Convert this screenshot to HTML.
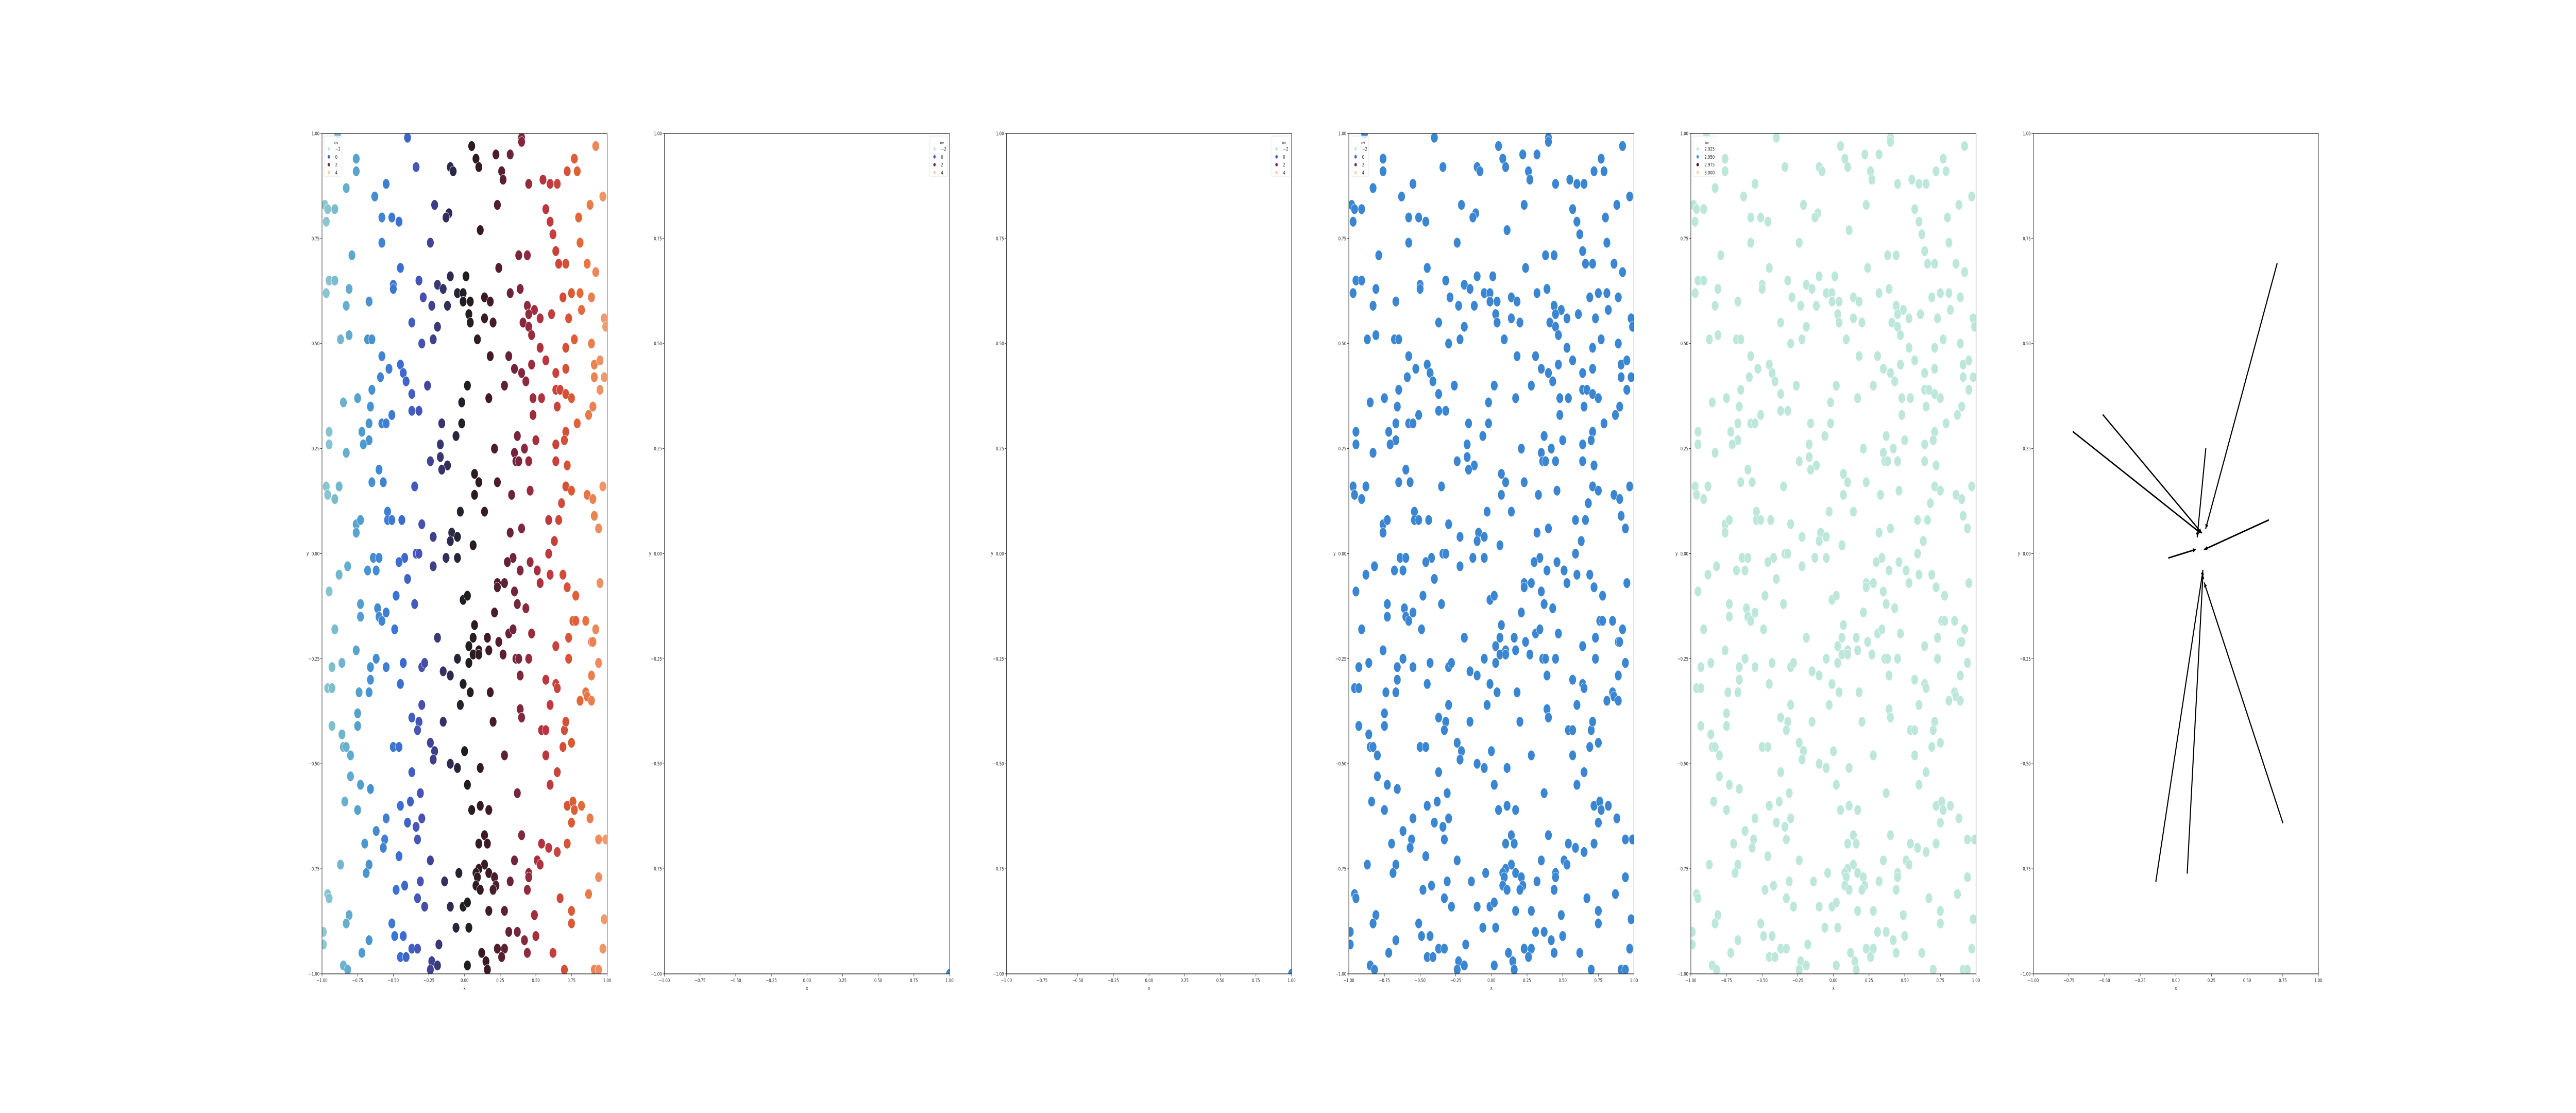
<!DOCTYPE html>
<html><head><meta charset="utf-8">
<style>
html,body{margin:0;padding:0;background:#fff;width:100%;height:100%;overflow:hidden;}
svg{display:block;position:absolute;left:0;top:0;width:100vw;height:100vh;font-family:"DejaVu Sans","Liberation Sans",sans-serif;}
</style></head>
<body>
<svg id="fig" viewBox="0 0 7200 2160" preserveAspectRatio="none" xmlns="http://www.w3.org/2000/svg"></svg>
<script>
// ---- data (data units) ----
const xs = [-0.40,0.40,0.40,0.05,0.92,-0.76,0.08,0.22,0.32,0.77,-0.34,-0.10,-0.08,0.10,0.26,0.27,0.72,0.79,-0.76,-0.55,0.55,0.60,0.65,0.45,-0.83,
-0.63,0.97,-0.98,-0.96,-0.91,-0.21,0.23,0.88,-0.11,-0.13,-0.58,-0.51,-0.46,-0.97,0.57,0.60,0.80,0.11,0.62,
-0.58,-0.24,0.81,-0.79,0.64,0.38,0.44,0.86,-0.45,0.24,0.66,0.71,0.92,-0.95,-0.91,-0.81,-0.97,-0.50,-0.50,-0.32,-0.10,0.01,-0.19,-0.15,-0.05,-0.01,0.39,0.32,
-0.67,-0.29,-0.23,-0.12,-0.01,0.04,0.14,0.18,0.69,0.75,0.81,0.89,-0.83,0.03,0.44,0.49,0.45,0.53,0.61,0.73,0.82,0.98,-0.37,0.04,0.14,0.20,0.41,0.45,0.47,0.99,-0.19,-0.87,-0.81,-0.68,-0.65,-0.30,-0.22,0.09,0.77,0.89,
-0.58,0.18,0.31,0.53,0.71,-0.53,-0.45,-0.43,0.35,0.40,0.47,0.57,0.64,0.71,0.91,0.95,-0.59,-0.41,0.28,0.43,0.91,0.98,-0.26,0.02,-0.65,-0.37,0.64,0.67,0.95,-0.85,-0.75,-0.02,0.17,0.48,0.54,0.71,0.75,
-0.66,-0.37,-0.32,-0.51,0.48,0.65,0.90,-0.67,-0.58,-0.55,-0.16,-0.02,0.79,0.87,-0.95,-0.72,-0.06,0.37,0.50,0.71,0.70,-0.95,-0.67,-0.71,-0.17,0.21,0.42,0.35,0.64,-0.83,
-0.24,-0.17,-0.12,0.36,0.38,0.45,0.64,0.72,-0.60,-0.16,0.07,0.10,-0.97,-0.88,-0.65,-0.57,-0.35,0.23,0.71,0.75,0.97,-0.96,-0.91,0.07,0.33,0.46,0.86,0.90,0.68,0.14,
-0.54,-0.03,-0.76,-0.73,-0.54,-0.51,-0.44,-0.30,0.59,0.66,0.91,-0.76,-0.09,-0.05,-0.10,-0.22,0.32,0.40,0.63,0.94,0.06,-0.64,-0.60,-0.42,-0.34,-0.32,-0.13,-0.05,-0.46,0.34,0.59,0.30,
-0.82,-0.88,-0.68,-0.62,-0.22,-0.40,0.39,0.46,0.51,0.53,0.60,0.69,0.72,0.95,-0.95,-0.48,0.23,0.23,0.28,0.35,-0.01,0.02,0.78,-0.73,-0.61,-0.55,-0.35,0.37,0.43,-0.73,-0.60,-0.58,
0.21,0.76,0.78,0.85,-0.49,-0.91,0.07,0.92,0.31,0.34,0.47,-0.19,0.06,0.16,0.24,0.73,0.89,0.90,-0.76,0.03,0.10,0.17,0.27,0.64,-0.93,-0.86,-0.66,-0.62,-0.55,-0.43,-0.30,-0.28,-0.05,0.06,0.10,0.03,0.36,0.38,0.45,0.73,0.94,
-0.66,-0.15,-0.10,0.39,0.89,-0.96,-0.93,-0.74,-0.67,-0.45,-0.01,0.04,0.18,0.57,0.64,0.65,0.85,0.81,0.86,0.89,-0.30,-0.03,0.60,-0.75,0.39,0.40,-0.37,-0.32,-0.15,0.20,-0.93,-0.75,
-0.86,-0.33,0.54,0.57,0.70,0.71,-0.85,-0.83,-0.50,-0.46,-0.24,-0.21,-0.22,0.00,0.69,0.75,-0.80,0.28,0.57,-0.10,-0.05,0.11,-0.37,0.65,
-0.80,-0.73,-0.66,0.02,0.60,0.37,-0.31,-0.84,-0.38,-0.45,0.05,0.11,0.17,0.72,0.76,0.77,0.82,-0.75,-0.55,-0.30,0.88,-0.40,-0.34,0.75,-0.62,
-0.56,-0.33,0.14,0.40,0.54,0.72,0.94,0.99,-0.70,-0.57,0.10,0.16,0.59,0.65,-0.46,-0.24,0.35,0.51,0.53,-0.87,-0.67,-0.69,0.14,0.10,0.17,0.08,-0.04,0.45,0.45,0.94,0.09,0.21,-0.14,
-0.31,0.32,0.08,0.22,-0.42,-0.48,0.11,0.20,0.44,0.87,-0.96,-0.95,-0.33,0.67,-0.28,-0.10,-0.01,0.02,0.28,0.17,0.75,0.49,-0.81,-0.83,0.75,-0.51,0.98,-0.06,0.03,-0.99,-0.49,-0.43,0.31,0.37,0.42,0.50,-0.99,-0.67,-0.18,-0.37,-0.33,-0.72,0.62,0.12,0.23,0.28,0.44,0.97,-0.45,-0.41,-0.23,-0.19,0.15,0.26,-0.85,-0.82,-0.24,0.02,0.16,0.70,0.91,0.94,-0.89];
const ys = [0.99,0.99,0.98,0.97,0.97,0.94,0.94,0.95,0.95,0.94,0.92,0.92,0.91,0.92,0.91,0.89,0.91,0.91,0.91,0.88,0.89,0.88,0.88,0.88,0.87,
0.85,0.85,0.83,0.82,0.82,0.83,0.83,0.83,0.81,0.80,0.80,0.80,0.79,0.79,0.82,0.79,0.80,0.77,0.76,
0.74,0.74,0.74,0.71,0.72,0.71,0.71,0.69,0.68,0.68,0.69,0.69,0.67,0.65,0.65,0.63,0.62,0.64,0.63,0.65,0.66,0.66,0.64,0.63,0.62,0.62,0.63,0.62,
0.60,0.61,0.59,0.59,0.60,0.60,0.61,0.60,0.61,0.62,0.62,0.61,0.59,0.57,0.59,0.58,0.57,0.56,0.57,0.56,0.58,0.56,0.55,0.55,0.56,0.55,0.55,0.54,0.52,0.54,0.54,0.51,0.52,0.51,0.51,0.50,0.51,0.51,0.51,0.50,
0.47,0.47,0.47,0.49,0.49,0.44,0.45,0.43,0.44,0.43,0.45,0.46,0.43,0.44,0.45,0.46,0.42,0.41,0.40,0.41,0.42,0.42,0.40,0.40,0.39,0.38,0.39,0.39,0.39,0.36,0.37,0.36,0.37,0.37,0.37,0.38,0.37,
0.35,0.34,0.34,0.33,0.33,0.35,0.35,0.31,0.31,0.31,0.31,0.31,0.31,0.33,0.29,0.29,0.28,0.28,0.27,0.29,0.27,0.26,0.27,0.26,0.26,0.25,0.25,0.24,0.26,0.24,
0.22,0.23,0.21,0.22,0.22,0.22,0.22,0.21,0.20,0.20,0.19,0.17,0.16,0.16,0.17,0.17,0.16,0.17,0.16,0.15,0.16,0.14,0.13,0.14,0.14,0.15,0.14,0.13,0.12,0.10,
0.10,0.10,0.07,0.08,0.08,0.08,0.08,0.07,0.08,0.08,0.09,0.05,0.05,0.04,0.03,0.04,0.05,0.06,0.03,0.06,0.02,-0.01,-0.01,-0.01,0.00,0.00,-0.01,-0.01,-0.02,-0.01,0.00,-0.02,
-0.03,-0.05,-0.04,-0.04,-0.03,-0.06,-0.04,-0.02,-0.04,-0.07,-0.05,-0.05,-0.08,-0.07,-0.09,-0.10,-0.07,-0.08,-0.07,-0.09,-0.11,-0.10,-0.10,-0.12,-0.13,-0.14,-0.12,-0.12,-0.13,-0.15,-0.15,-0.16,
-0.14,-0.16,-0.16,-0.16,-0.18,-0.18,-0.17,-0.18,-0.19,-0.18,-0.19,-0.20,-0.20,-0.20,-0.21,-0.20,-0.21,-0.21,-0.23,-0.22,-0.23,-0.23,-0.24,-0.22,-0.27,-0.26,-0.27,-0.25,-0.27,-0.26,-0.27,-0.26,-0.25,-0.24,-0.24,-0.26,-0.25,-0.25,-0.25,-0.25,-0.26,
-0.30,-0.28,-0.29,-0.29,-0.29,-0.32,-0.32,-0.33,-0.33,-0.31,-0.31,-0.33,-0.33,-0.30,-0.31,-0.32,-0.33,-0.35,-0.34,-0.35,-0.36,-0.36,-0.36,-0.38,-0.37,-0.39,-0.39,-0.40,-0.40,-0.40,-0.41,-0.41,
-0.43,-0.42,-0.42,-0.42,-0.42,-0.40,-0.46,-0.46,-0.46,-0.46,-0.45,-0.47,-0.49,-0.47,-0.46,-0.45,-0.48,-0.48,-0.48,-0.50,-0.51,-0.51,-0.52,-0.52,
-0.53,-0.55,-0.56,-0.55,-0.55,-0.57,-0.57,-0.59,-0.59,-0.60,-0.61,-0.60,-0.61,-0.60,-0.59,-0.61,-0.60,-0.61,-0.63,-0.63,-0.63,-0.64,-0.65,-0.64,-0.66,
-0.68,-0.68,-0.67,-0.67,-0.69,-0.69,-0.68,-0.68,-0.69,-0.70,-0.69,-0.69,-0.70,-0.71,-0.72,-0.73,-0.73,-0.73,-0.74,-0.74,-0.74,-0.76,-0.74,-0.75,-0.76,-0.76,-0.76,-0.76,-0.77,-0.77,-0.77,-0.77,-0.78,
-0.78,-0.78,-0.79,-0.79,-0.79,-0.80,-0.80,-0.80,-0.80,-0.81,-0.81,-0.82,-0.82,-0.82,-0.84,-0.84,-0.84,-0.83,-0.85,-0.85,-0.85,-0.86,-0.86,-0.88,-0.88,-0.88,-0.87,-0.89,-0.89,-0.90,-0.91,-0.91,-0.90,-0.90,-0.92,-0.91,-0.93,-0.92,-0.93,-0.94,-0.94,-0.95,-0.95,-0.95,-0.94,-0.94,-0.95,-0.94,-0.96,-0.96,-0.97,-0.98,-0.97,-0.96,-0.98,-0.99,-0.99,-0.98,-0.99,-0.99,-0.99,-0.99,1.00];
// hue ("ov") per point, estimated from the colour gradient (roughly linear in x)
const hueSlope = 2.6, hueOffset = 1;
const singleX = [1.0];
const singleY = [-1.0];
// arrows panel: outer end -> inner end
const arrowX0 = [0.71,-0.51,-0.72,0.21,0.65,-0.05,-0.14,0.08,0.75];
const arrowY0 = [0.69,0.33,0.29,0.25,0.08,-0.01,-0.78,-0.76,-0.64];
const arrowX1 = [0.21,0.18,0.17,0.15,0.20,0.14,0.19,0.19,0.20];
const arrowY1 = [0.06,0.05,0.05,0.04,0.01,0.01,-0.04,-0.05,-0.07];
const tickVals = [-1,-0.75,-0.5,-0.25,0,0.25,0.5,0.75,1];
const tickLabels = ["\u22121.00","\u22120.75","\u22120.50","\u22120.25","0.00","0.25","0.50","0.75","1.00"];
const legendLabelsA = ["\u22122","0","2","4"];
const legendHuesA = [-2,0,2,4];
const legendLabelsB = ["2.925","2.950","2.975","3.000"];
const legendColorsB = ["#bde7db","#4a98d2","#3f1f28","#fdd0aa"];

// ---- layout ----
const NS="http://www.w3.org/2000/svg";
const fig=document.getElementById('fig');
const AX_LEFTS=[900,1857,2813,3770,4726,5683], AX_W=797, AX_TOP=259, AX_BOT=1890;
function el(tag,attrs,parent){const e=document.createElementNS(NS,tag);for(const k in attrs)e.setAttribute(k,attrs[k]);(parent||fig).appendChild(e);return e;}
const stops=[[0,189,231,219],[0.1,125,190,205],[0.2,72,152,208],[0.3,58,112,212],[0.37,72,80,178],[0.44,52,48,96],[0.5,30,30,32],[0.57,62,26,36],[0.65,112,36,60],[0.75,190,52,62],[0.85,228,102,52],[1,252,205,165]];
function icefire(t){t=Math.max(0,Math.min(1,t));for(let i=1;i<stops.length;i++){if(t<=stops[i][0]){const a=stops[i-1],b=stops[i];const f=(t-a[0])/(b[0]-a[0]);return `rgb(${Math.round(a[1]+f*(b[1]-a[1]))},${Math.round(a[2]+f*(b[2]-a[2]))},${Math.round(a[3]+f*(b[3]-a[3]))})`;}}return 'rgb(252,205,165)';}
function hueColor(h){return icefire((h+2)/6);}

function makeAxes(i){
  const L=AX_LEFTS[i];
  const g=el('g',{});
  
  
  const sx=v=>L+(v+1)/2*AX_W, sy=v=>AX_TOP+(1-v)/2*(AX_BOT-AX_TOP);
  const clipId='clip'+i;
  const cp=el('clipPath',{id:clipId},g); el('rect',{x:L,y:AX_TOP,width:AX_W,height:AX_BOT-AX_TOP},cp);
  const plot=el('g',{},g);
  plot.setAttribute('clip-path','url(#'+clipId+')');
  
  
  for(let k=0;k<tickVals.length;k++){
    const x=sx(tickVals[k]), y=sy(tickVals[k]);
    const t1=el('line',{x1:x,y1:AX_BOT,x2:x,y2:AX_BOT+5,stroke:'#222','stroke-width':1},g);
    
    
    const l1=el('text',{x:x,y:AX_BOT+16,'font-size':10,'text-anchor':'middle',fill:'#222'},g);
    l1.textContent=tickLabels[k];
    
    
    const t2=el('line',{x1:L-5,y1:y,x2:L,y2:y,stroke:'#222','stroke-width':1},g);
    
    
    const l2=el('text',{x:L-7,y:y+3.5,'font-size':10,'text-anchor':'end',fill:'#222'},g);
    l2.textContent=tickLabels[k];
    
    
  }
  const xl=el('text',{x:L+AX_W/2,y:AX_BOT+31,'font-size':10,'text-anchor':'middle',fill:'#222'},g);
  xl.textContent='x';
  
  
  const yl=el('text',{x:L-40,y:(AX_TOP+AX_BOT)/2+3,'font-size':10,'text-anchor':'middle',fill:'#222'},g);
  yl.textContent='y';
  
  
  return {g,plot,sx,sy,L};
}
function frame(ax){
  const f=el('rect',{x:ax.L,y:AX_TOP,width:AX_W,height:AX_BOT-AX_TOP,fill:'none',stroke:'#222','stroke-width':1.3},ax.g);
  
  
}
function dot(ax,x,y,color,name){
  const c=el('circle',{cx:ax.sx(x),cy:ax.sy(y),r:10,fill:color,stroke:'#fff','stroke-width':0.8},ax.plot);
  
  
}
function legend(ax,bx,labels,colors){
  const lg=el('g',{},ax.g);
  
  
  const w=labels[0].length>3?64:50;
  el('rect',{x:bx,y:AX_TOP+5,width:w,height:78,rx:2,fill:'#fff','fill-opacity':0.8,stroke:'#ddd','stroke-width':1},lg);
  const tt=el('text',{x:bx+(w>50?39:34),y:AX_TOP+21,'font-size':9,'text-anchor':'middle',fill:'#222'},lg);
  tt.textContent='ov';
  
  
  for(let k=0;k<labels.length;k++){
    const y=AX_TOP+30+k*15.3;
    const m=el('circle',{cx:bx+13,cy:y,r:3.4,fill:colors[k]},lg);
    
    
    const t=el('text',{x:bx+(w>50?32:31),y:y+3.5,'font-size':10,fill:'#222'},lg);
    t.textContent=labels[k];
    
    
  }
}
const colsA=legendHuesA.map(hueColor);
{const ax=makeAxes(0);for(let i=0;i<xs.length;i++){dot(ax,xs[i],ys[i],hueColor(hueSlope*xs[i]+hueOffset),'scatter-point');}
 frame(ax);legend(ax,ax.L+6,legendLabelsA,colsA);}
for(const p of [1,2]){const ax=makeAxes(p);for(let i=0;i<singleX.length;i++)dot(ax,singleX[i],singleY[i],'#3a86d2','scatter-point');frame(ax);legend(ax,ax.L+AX_W-55,legendLabelsA,colsA);}
{const ax=makeAxes(3);for(let i=0;i<xs.length;i++)dot(ax,xs[i],ys[i],'#3a86d2','scatter-point');frame(ax);legend(ax,ax.L+6,legendLabelsA,colsA);}
{const ax=makeAxes(4);for(let i=0;i<xs.length;i++)dot(ax,xs[i],ys[i],'#bde7db','scatter-point');frame(ax);legend(ax,ax.L+6,legendLabelsB,legendColorsB);}
{const ax=makeAxes(5);
 for(let i=0;i<arrowX0.length;i++){
   const x0=ax.sx(arrowX0[i]),y0=ax.sy(arrowY0[i]),x1=ax.sx(arrowX1[i]),y1=ax.sy(arrowY1[i]);
   const ln=el('line',{x1:x0,y1:y0,x2:x1,y2:y1,stroke:'#000','stroke-width':3,'stroke-linecap':'round'},ax.plot);
   
   
   const a=Math.atan2(y1-y0,x1-x0),s=9;
   const pts=[[x1,y1],[x1-s*Math.cos(a-0.5),y1-s*Math.sin(a-0.5)],[x1-s*Math.cos(a+0.5),y1-s*Math.sin(a+0.5)]];
   const hd=el('polygon',{points:pts.map(p=>p.join(',')).join(' '),fill:'#000'},ax.plot);
   
   
 }
 frame(ax);}
</script>
</body></html>
